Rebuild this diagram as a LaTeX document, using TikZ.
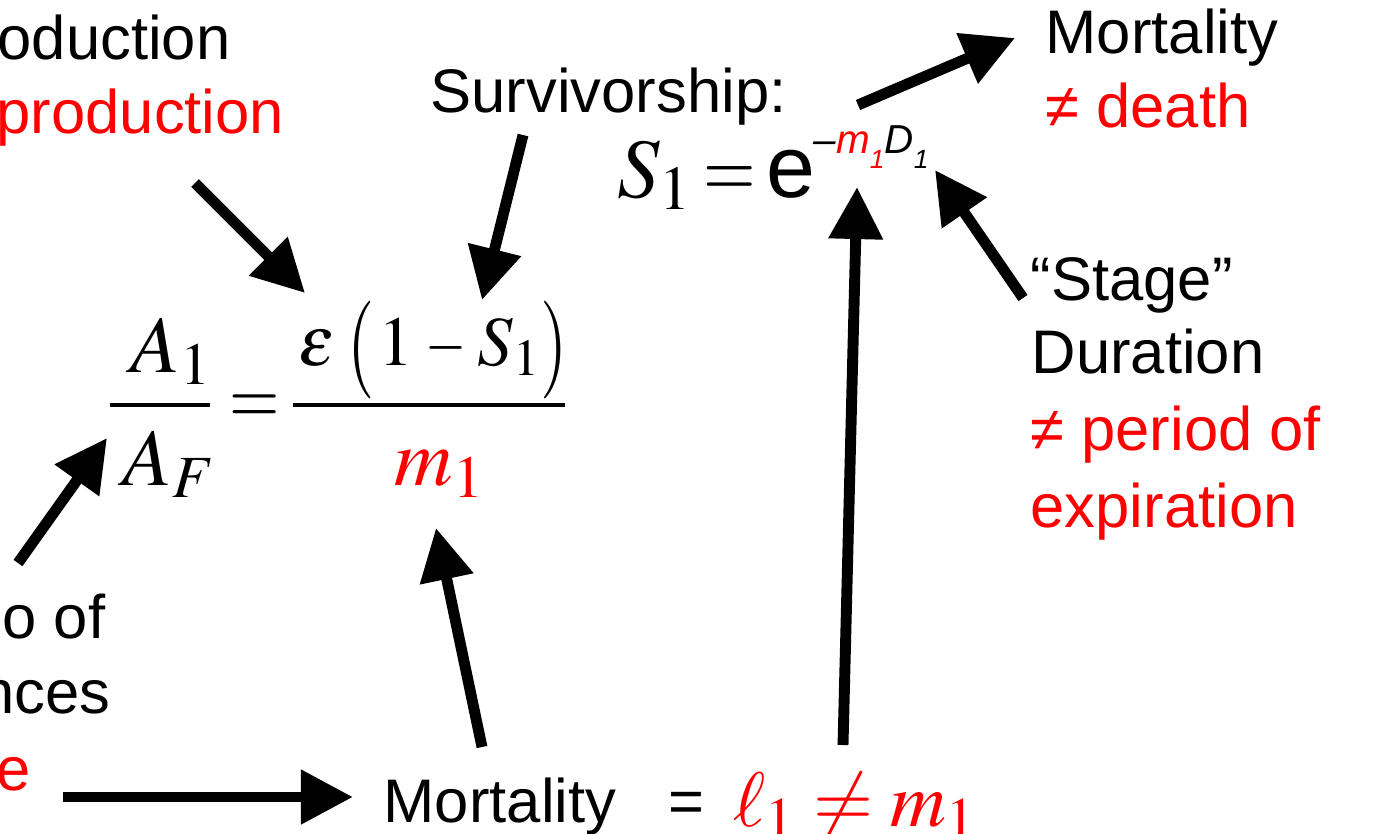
\documentclass[tikz,border=0pt]{standalone}
\usepackage{mathptmx}
\usepackage{graphicx}
\usepackage[no-math]{fontspec}
\setmainfont{Liberation Sans}
\usetikzlibrary{arrows.meta}
\newcommand{\tallparen}[1]{\raisebox{-2.8pt}{\scalebox{1}[1.39]{$#1$}}}
\newcommand{\slimeq}{\scalebox{0.8}[1]{$=$}}
\newcommand{\slimminus}{\scalebox{0.75}[1]{$-$}}
\begin{document}
\begin{tikzpicture}[x=0.01cm,y=-0.01cm]
		\tikzstyle{txt}=[anchor=base west, inner sep=0pt, font=\fontsize{17.5}{21}\selectfont];
		\tikzstyle{note}=[txt, text=red];
		\tikzstyle{eqn}=[anchor=base west, inner sep=0pt, font=\fontsize{23}{27}\selectfont];
		\tikzstyle{bar}=[line width=1.2pt];
		\tikzstyle{bigarrow}=[line width=3.1pt, -{Triangle[length=5.2mm,width=5.2mm]}];

		\useasboundingbox (0,0) rectangle (1376,833);

		\node[txt] (prodA) at (-3,59) {oduction};
		\node[note] (prodB) at (-4,133) {production};
		\node[txt] (survLabel) at (430,112) {Survivorship:};
		\node[txt] (mortTop) at (1045,53) {Mortality};
		\node[note] (notDeath) at (1045,127) {≠ death};
		\node[txt] (stage) at (1030,300) {“Stage”};
		\node[txt] (duration) at (1031,373) {Duration};
		\node[note] (notPeriod) at (1030,450) {≠ period of};
		\node[note] (expiration) at (1030,527) {expiration};
		\node[txt] (ratioA) at (2,638) {o of};
		\node[txt] (ratioB) at (-20,713) {nces};
		\node[note] (ratioC) at (-4,790) {e};
		\node[txt] (mortLow) at (383,822) {Mortality\hspace{15pt}=};
		\node[eqn, font=\fontsize{22}{26}\selectfont, text=red] (mortEq) at (733,826) {$\ell_1 \neq m_1$};

		\node[eqn, font=\fontsize{24}{28}\selectfont] (survEq) at (617,197) {$S_1$};
		\node[eqn, font=\fontsize{24}{28}\selectfont] (survEqSign) at (703,197) {\slimeq};
		\node[txt, font=\fontsize{25}{28}\selectfont] (eBase) at (766,197) {e};
		\node[txt, font=\fontsize{11.5}{13}\selectfont\itshape] (expo) at (813,153)
			{–{\color{red}m\raisebox{-4.3pt}{\fontsize{7.5}{8}\selectfont 1}}D\raisebox{-4.3pt}{\fontsize{7.5}{8}\selectfont 1}};

		\node[eqn] (A1) at (130,372) {$A_1$};
		\node[eqn] (AF) at (122,485) {$A_F$};
		\node[eqn] (eqMid) at (229,424) {\slimeq};
		\node[eqn, font=\fontsize{20}{24}\selectfont] (numer) at (298,365)
			{$\varepsilon\mkern3mu\tallparen{(}\mkern1mu 1\mkern3mu\slimminus\mkern3mu S_1\tallparen{)}$};
		\node[eqn, text=red] (denom) at (394,485) {$m_1$};
		\draw[bar] (110,405) -- (210,405);
		\draw[bar] (293,405) -- (565,405);

		\coordinate (prodTail) at (195,183);
		\coordinate (prodTip) at (305,293);
		\coordinate (survTail) at (523,135);
		\coordinate (survTip) at (482,300);
		\coordinate (expoTail) at (858,105);
		\coordinate (mortTip) at (1015,38);
		\coordinate (stageTail) at (1023,298);
		\coordinate (dTip) at (935,170);
		\coordinate (lowTail) at (843,745);
		\coordinate (mTip) at (857,187);
		\coordinate (denTail) at (482,747);
		\coordinate (denTip) at (436,528);
		\coordinate (ratioTail) at (18,563);
		\coordinate (afTip) at (107,438);
		\coordinate (leftTail) at (63,797);
		\coordinate (mortLowTip) at (353,797);

		\draw[bigarrow] (prodTail) -- (prodTip);
		\draw[bigarrow] (survTail) -- (survTip);
		\draw[bigarrow] (expoTail) -- (mortTip);
		\draw[bigarrow] (stageTail) -- (dTip);
		\draw[bigarrow] (lowTail) -- (mTip);
		\draw[bigarrow] (denTail) -- (denTip);
		\draw[bigarrow] (ratioTail) -- (afTip);
		\draw[bigarrow] (leftTail) -- (mortLowTip);
\end{tikzpicture}
\end{document}
